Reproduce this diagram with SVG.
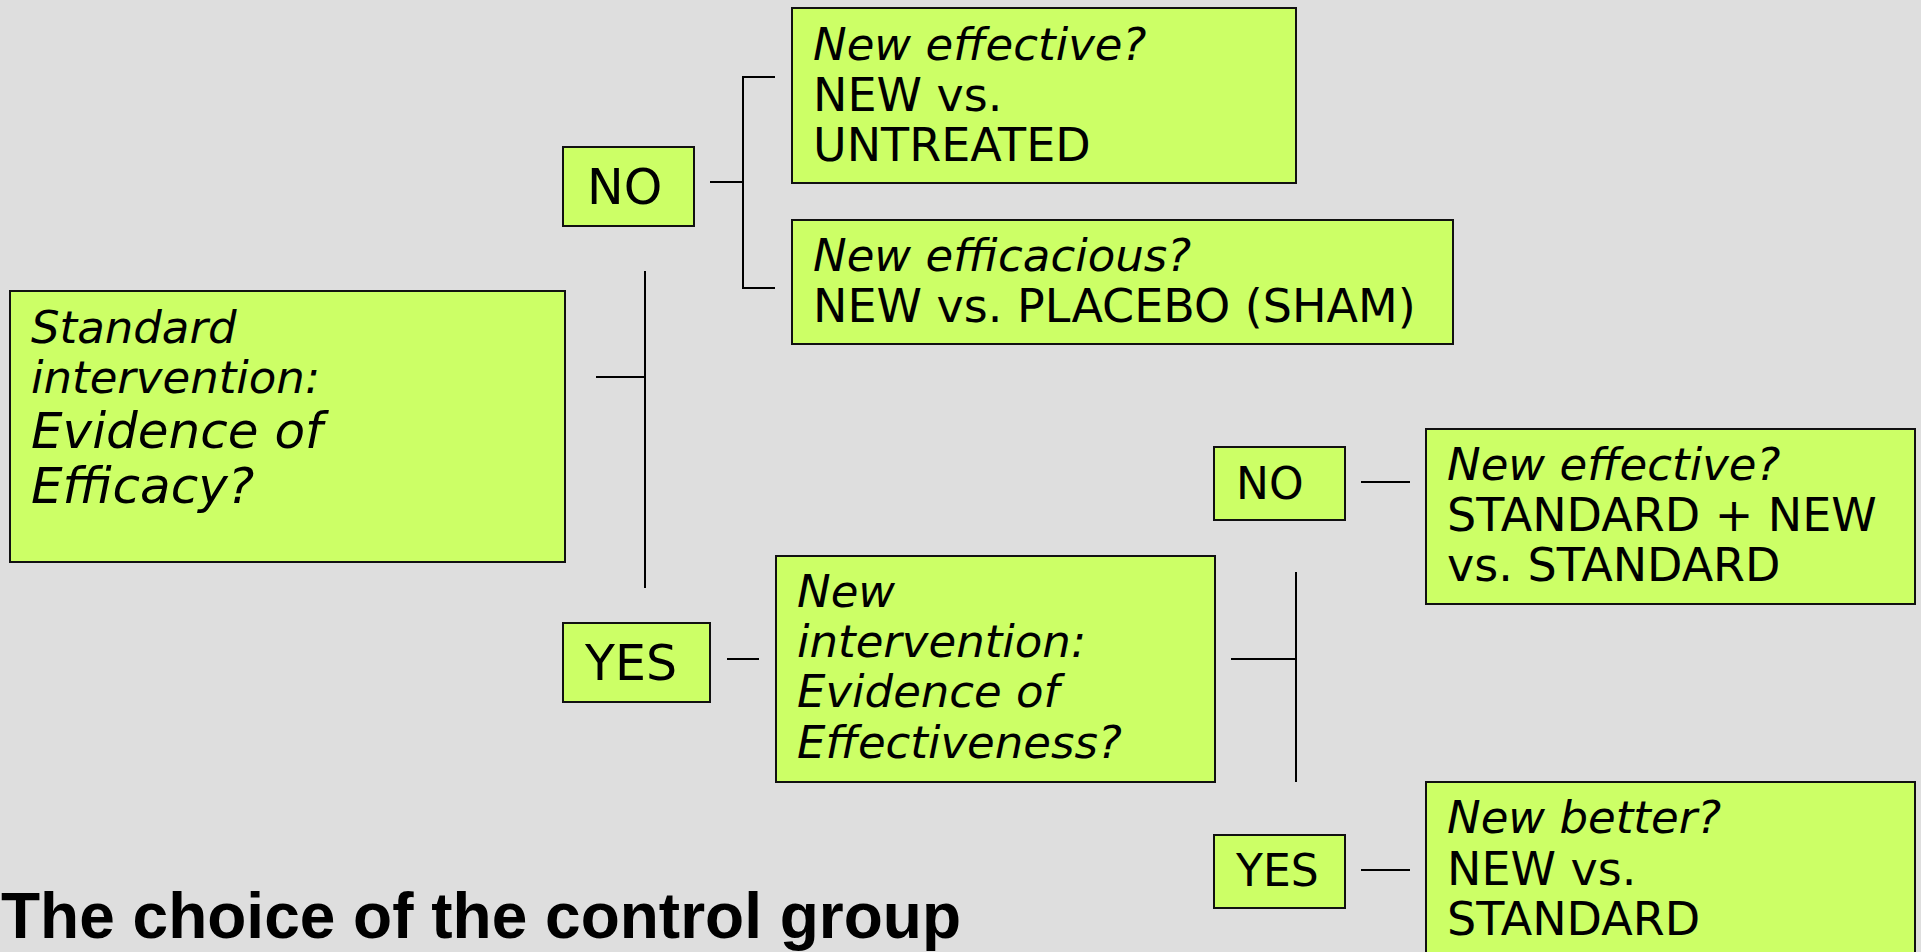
<svg xmlns="http://www.w3.org/2000/svg" width="1921" height="952" viewBox="0 0 1921 952">
<style>
.box{fill:#CCFF66;stroke:#111;stroke-width:2}
.t{font-family:"DejaVu Sans",Verdana,sans-serif;font-size:46px;fill:#000}
.i{font-style:italic;font-size:45px}
.c{stroke:#000;stroke-width:2;fill:none}
.title{font-family:"Liberation Sans",Arial,sans-serif;font-weight:bold;font-size:64px;fill:#000}
</style>
<rect x="0" y="0" width="1921" height="952" fill="#DEDEDE"/>
<g id="connectors">
<path class="c" d="M775 77 H743 V288 H775 M710 182 H743"/>
<path class="c" d="M645 271 V588 M596 377 H645"/>
<path class="c" d="M727 659 H759"/>
<path class="c" d="M1296 572 V782 M1231 659 H1296"/>
<path class="c" d="M1361 482 H1410"/>
<path class="c" d="M1361 870 H1410"/>
</g>
<g id="n-standard">
<rect class="box" x="10" y="291" width="555" height="271"/>
<text class="t i" x="31" y="343">Standard</text>
<text class="t i" x="31" y="393">intervention:</text>
<text class="t i" x="31" y="448" style="font-size:50px">Evidence of</text>
<text class="t i" x="31" y="503" style="font-size:50px">Efficacy?</text>
</g>
<g id="n-no1">
<rect class="box" x="563" y="147" width="131" height="79"/>
<text class="t" x="587" y="204" style="font-size:49px">NO</text>
</g>
<g id="n-yes1">
<rect class="box" x="563" y="623" width="147" height="79"/>
<text class="t" x="585" y="680" style="font-size:49px">YES</text>
</g>
<g id="n-untreated">
<rect class="box" x="792" y="8" width="504" height="175"/>
<text class="t i" x="813" y="60">New effective?</text>
<text class="t" x="813" y="111">NEW vs.</text>
<text class="t" x="813" y="161">UNTREATED</text>
</g>
<g id="n-placebo">
<rect class="box" x="792" y="220" width="661" height="124"/>
<text class="t i" x="813" y="271">New efficacious?</text>
<text class="t" x="813" y="322">NEW vs. PLACEBO (SHAM)</text>
</g>
<g id="n-newint">
<rect class="box" x="776" y="556" width="439" height="226"/>
<text class="t i" x="797" y="607">New</text>
<text class="t i" x="797" y="657">intervention:</text>
<text class="t i" x="797" y="707">Evidence of</text>
<text class="t i" x="797" y="758">Effectiveness?</text>
</g>
<g id="n-no2">
<rect class="box" x="1214" y="447" width="131" height="73"/>
<text class="t" x="1236" y="499" style="font-size:44px">NO</text>
</g>
<g id="n-yes2">
<rect class="box" x="1214" y="835" width="131" height="73"/>
<text class="t" x="1236" y="886" style="font-size:44px">YES</text>
</g>
<g id="n-standardnew">
<rect class="box" x="1426" y="429" width="489" height="175"/>
<text class="t i" x="1447" y="480">New effective?</text>
<text class="t" x="1447" y="531">STANDARD + NEW</text>
<text class="t" x="1447" y="581">vs. STANDARD</text>
</g>
<g id="n-better">
<rect class="box" x="1426" y="782" width="489" height="190"/>
<text class="t i" x="1447" y="833">New better?</text>
<text class="t" x="1447" y="885">NEW vs.</text>
<text class="t" x="1447" y="935">STANDARD</text>
</g>
<text id="title" class="title" x="1" y="938">The choice of the control group</text>
</svg>
